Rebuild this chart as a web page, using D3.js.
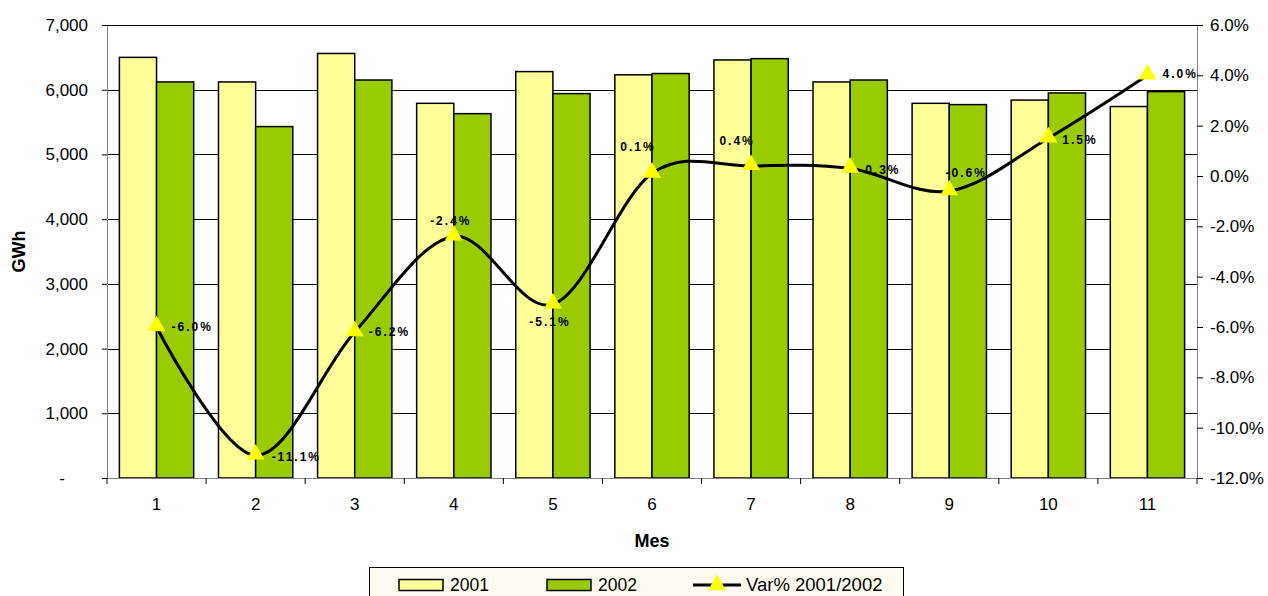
<!DOCTYPE html>
<html>
<head>
<meta charset="utf-8">
<script src="https://cdn.jsdelivr.net/npm/d3@7"></script>
<style>
  body { margin: 0; background: #fff; }
  svg { font-family: "Liberation Sans", Arial, sans-serif; }
  .axis text { font-size: 17px; fill: #000; }
  .axis path.domain { stroke: #808080; }
  .axis line { stroke: #000; }
  .grid line { stroke: #000; stroke-width: 1; shape-rendering: crispEdges; }
  .lbl { font-size: 12px; font-weight: bold; letter-spacing: 2px; }
</style>
</head>
<body>
<div id="chart"></div>
<script>
// meses
var months = ["1", "2", "3", "4", "5", "6", "7", "8", "9", "10", "11"];
// GWh por mes
var gwh2001 = [6500, 6120, 6560, 5790, 6280, 6230, 6460, 6120, 5790, 5840, 5740];
var gwh2002 = [6120, 5430, 6150, 5630, 5940, 6250, 6480, 6150, 5770, 5950, 5970];
// variación %
var varPct = [-6.0, -11.1, -6.2, -2.4, -5.1, 0.1, 0.4, 0.3, -0.6, 1.5, 4.0];
var varText = ["-6.0%", "-11.1%", "-6.2%", "-2.4%", "-5.1%", "0.1%", "0.4%", "0.3%", "-0.6%", "1.5%", "4.0%"];
var leftTicks = [0, 1000, 2000, 3000, 4000, 5000, 6000, 7000];
var rightTicks = [-12, -10, -8, -6, -4, -2, 0, 2, 4, 6];
var seriesNames = ["2001", "2002", "Var% 2001/2002"];

// donde va cada etiqueta respecto al punto (dx, dy, anchor)
var labelPos = [
    [15, 4, "start"], [16, 6, "start"], [14, 4, "start"], [-3, -11, "middle"],
    [-3, 22, "middle"], [-14, -22, "middle"], [-14, -21, "middle"], [15, 6, "start"],
    [17, -14, "middle"], [14, 6, "start"], [15, 3, "start"]
];

// formato con guion normal
var loc = d3.formatLocale({decimal: ".", thousands: ",", grouping: [3], currency: ["", ""], minus: "-"});

var width = 1268, height = 596;
var margin = {top: 25, right: 71, bottom: 118, left: 107};
var plotW = width - margin.left - margin.right,
    plotH = height - margin.top - margin.bottom;

var svg = d3.select("#chart")
    .append("svg")
    .attr("width", width)
    .attr("height", height);

var g = svg.append("g")
    .attr("transform", "translate(" + margin.left + "," + margin.top + ")");

var xScale = d3.scaleBand().domain(months).range([0, plotW])
    .paddingInner(0.25).paddingOuter(0.125);
var xSub = d3.scaleBand().domain(["2001", "2002"]).range([0, xScale.bandwidth()]);
var yScale = d3.scaleLinear().domain([0, 7000]).range([plotH, 0]);
var yRight = d3.scaleLinear().domain([-12, 6]).range([plotH, 0]);

// gridlines
g.append("g")
    .attr("class", "grid")
    .selectAll("line")
    .data(leftTicks.slice(1))
    .enter().append("line")
    .attr("x1", 0).attr("x2", plotW)
    .attr("y1", function (d) { return Math.round(yScale(d)) + 0.5; })
    .attr("y2", function (d) { return Math.round(yScale(d)) + 0.5; });

// barras
var rows = months.map(function (m, i) {
    return {m: m, values: [{k: "2001", v: gwh2001[i]}, {k: "2002", v: gwh2002[i]}]};
});
var colors = {"2001": "#FFFF99", "2002": "#99CC00"};

g.selectAll(".grp")
    .data(rows)
    .enter().append("g")
    .attr("class", "grp")
    .attr("transform", function (d) { return "translate(" + xScale(d.m) + ",0)"; })
    .selectAll("rect")
    .data(function (d) { return d.values; })
    .enter().append("rect")
    .attr("x", function (d) { return xSub(d.k); })
    .attr("width", xSub.bandwidth())
    .attr("y", function (d) { return yScale(d.v); })
    .attr("height", function (d) { return plotH - yScale(d.v); })
    .attr("fill", function (d) { return colors[d.k]; })
    .attr("stroke", "#000")
    .attr("stroke-width", 1.5);

// ejes
var yAxis = d3.axisLeft(yScale)
    .tickValues(leftTicks)
    .tickSize(5)
    .tickPadding(14)
    .tickFormat(function (d) { return d === 0 ? "-" : loc.format(",")(d); });

var yAxisG = g.append("g").attr("class", "axis").call(yAxis);
yAxisG.selectAll(".tick text").filter(function (d) { return d === 0; }).attr("dx", "-23");

var yAxisR = d3.axisRight(yRight)
    .tickValues(rightTicks)
    .tickSize(6)
    .tickPadding(7)
    .tickFormat(function (d) { return loc.format(".1f")(d) + "%"; });

g.append("g").attr("class", "axis")
    .attr("transform", "translate(" + plotW + ",0)")
    .call(yAxisR);

var xAxis = d3.axisBottom(xScale).tickSize(0).tickPadding(20);
var xAxisG = g.append("g").attr("class", "axis")
    .attr("transform", "translate(0," + plotH + ")")
    .call(xAxis);
xAxisG.select("path.domain").attr("stroke", "#000");

// marcas entre categorías
var bounds = months.map(function (m) { return xScale(m) - xScale.step() * xScale.paddingOuter(); });
bounds.push(plotW);
xAxisG.selectAll(".bt")
    .data(bounds)
    .enter().append("line")
    .attr("class", "bt")
    .attr("x1", function (d) { return d; })
    .attr("x2", function (d) { return d; })
    .attr("y1", 0).attr("y2", 6)
    .attr("stroke", "#000");

// borde superior
g.append("line")
    .attr("x1", 0).attr("x2", plotW)
    .attr("y1", 0.5).attr("y2", 0.5)
    .attr("stroke", "#000");

// linea de variación
var cx = function (i) { return xScale(months[i]) + xScale.bandwidth() / 2; };
var line = d3.line()
    .x(function (d, i) { return cx(i); })
    .y(function (d) { return yRight(d); })
    .curve(d3.curveCardinal.tension(0));

g.append("path")
    .attr("d", line(varPct))
    .attr("fill", "none")
    .attr("stroke", "#000")
    .attr("stroke-width", 3);

var tri = d3.symbol().type(d3.symbolTriangle).size(140);
g.selectAll(".mk")
    .data(varPct)
    .enter().append("path")
    .attr("class", "mk")
    .attr("d", tri)
    .attr("transform", function (d, i) { return "translate(" + cx(i) + "," + (yRight(d) - 1) + ")"; })
    .attr("fill", "#FFFF00");

g.selectAll(".lbl")
    .data(varPct)
    .enter().append("text")
    .attr("class", "lbl")
    .attr("x", function (d, i) { return cx(i) + labelPos[i][0]; })
    .attr("y", function (d, i) { return yRight(d) + labelPos[i][1]; })
    .attr("text-anchor", function (d, i) { return labelPos[i][2]; })
    .text(function (d, i) { return varText[i]; });

// títulos
svg.append("text")
    .attr("transform", "translate(25," + (margin.top + plotH / 2) + ") rotate(-90)")
    .attr("text-anchor", "middle")
    .style("font-size", "18px")
    .style("font-weight", "bold")
    .text("GWh");

svg.append("text")
    .attr("x", margin.left + plotW / 2)
    .attr("y", 547)
    .attr("text-anchor", "middle")
    .style("font-size", "18px")
    .style("font-weight", "bold")
    .text("Mes");

// leyenda
var legend = svg.append("g").attr("transform", "translate(369,567)");
legend.append("rect")
    .attr("x", 0.5).attr("y", 0.5)
    .attr("width", 534).attr("height", 40)
    .attr("fill", "#FFFAF0")
    .attr("stroke", "#000");

var legX = [30, 178, 324];
[0, 1].forEach(function (i) {
    legend.append("rect")
        .attr("x", legX[i]).attr("y", 12.5)
        .attr("width", 44).attr("height", 11)
        .attr("fill", colors[seriesNames[i]])
        .attr("stroke", "#000")
        .attr("stroke-width", 1.5);
    legend.append("text")
        .attr("x", legX[i] + 51).attr("y", 24)
        .style("font-size", "17.5px")
        .text(seriesNames[i]);
});
legend.append("line")
    .attr("x1", legX[2]).attr("x2", legX[2] + 48)
    .attr("y1", 18).attr("y2", 18)
    .attr("stroke", "#000").attr("stroke-width", 3);
legend.append("path")
    .attr("d", tri)
    .attr("transform", "translate(" + (legX[2] + 24) + ",18)")
    .attr("fill", "#FFFF00");
legend.append("text")
    .attr("x", legX[2] + 53).attr("y", 24)
    .style("font-size", "18.5px")
    .text(seriesNames[2]);
</script>
</body>
</html>
